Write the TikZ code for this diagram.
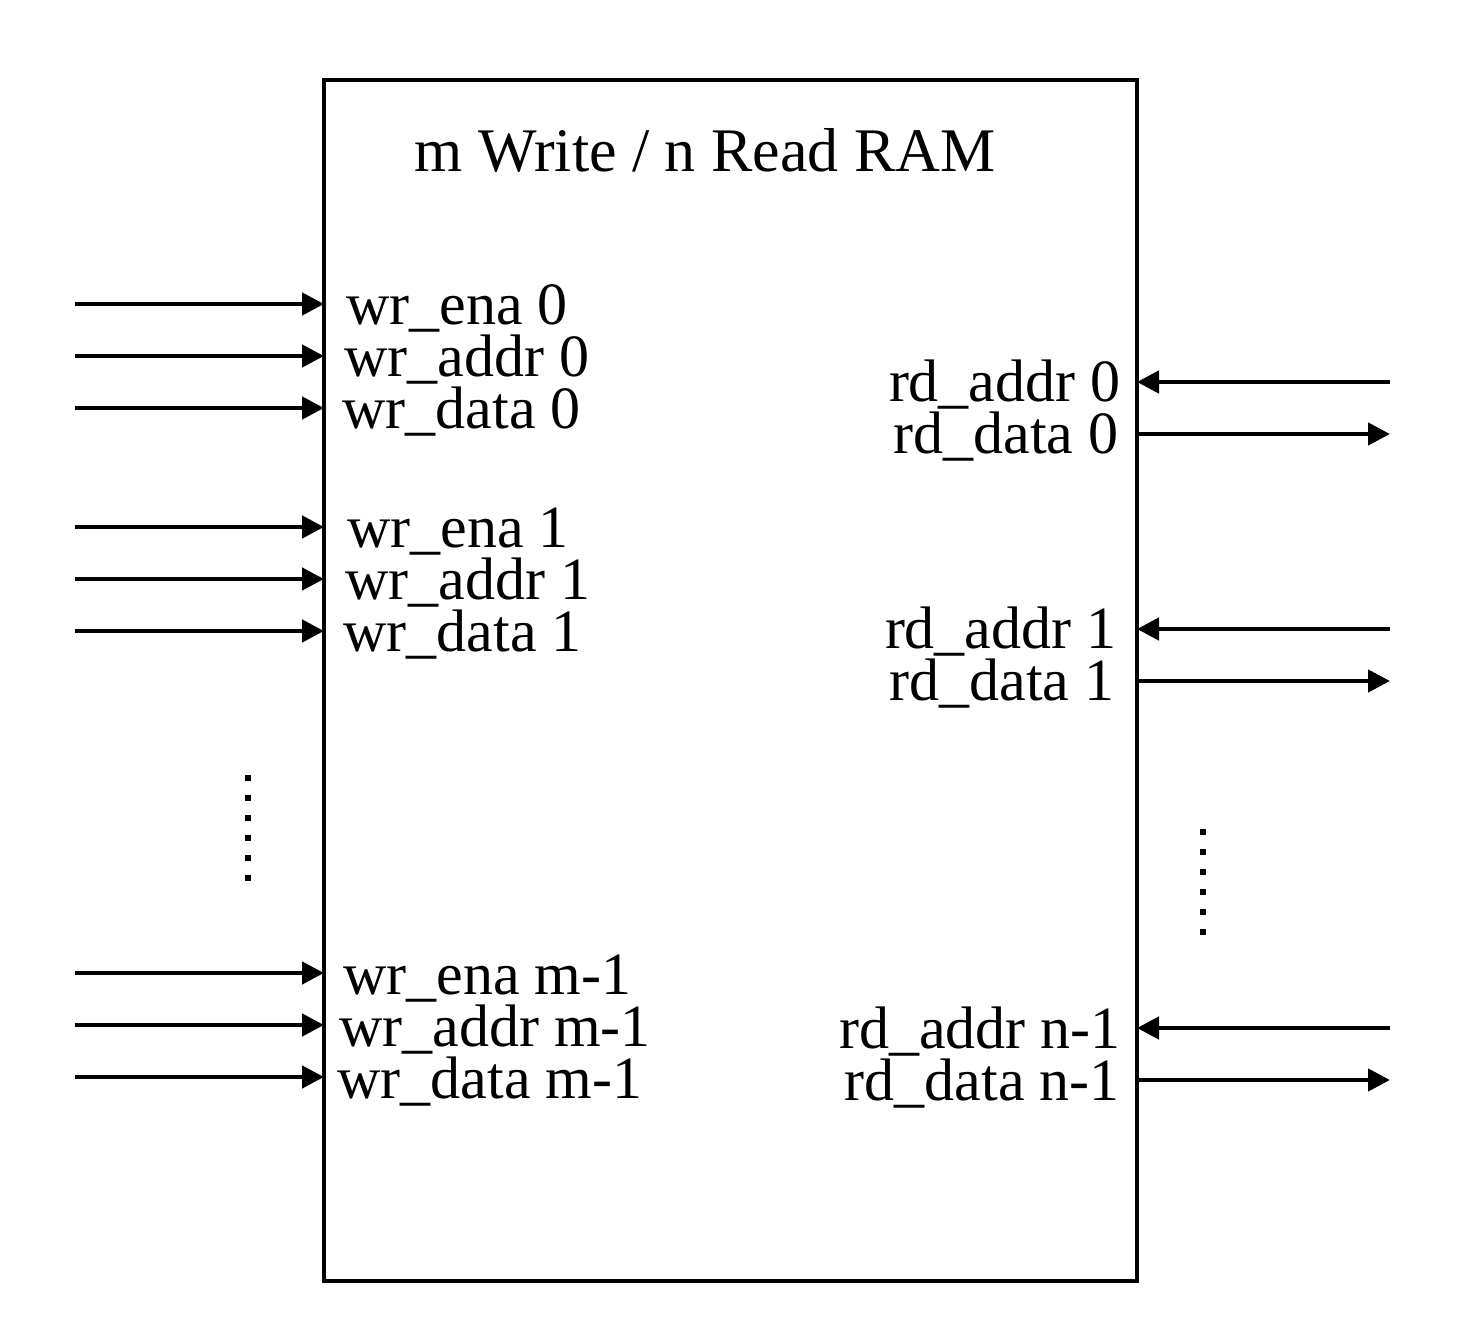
\documentclass[tikz,border=0pt]{standalone}
\usepackage{fontspec}
\setmainfont{Liberation Serif}
\usetikzlibrary{arrows.meta}
\begin{document}
\begin{tikzpicture}[x=0.5pt,y=-0.5pt,
  sig/.style={line width=2.3pt,-{Triangle[length=11pt,width=11pt]}},
  lbl/.style={inner sep=0pt,font=\fontsize{30pt}{36pt}\selectfont},
  ttl/.style={inner sep=0pt,font=\fontsize{31pt}{37pt}\selectfont},
  dotmark/.style={fill=black}]
\useasboundingbox[fill=white] (0,0) rectangle (1464,1326);
\node[draw,line width=2.3pt,inner sep=0pt,outer sep=0pt,minimum width=406.5pt,minimum height=600.5pt] (ram) at (730.5,680.5) {};
\node[ttl,anchor=base] (title) at (705,172) {m Write / n Read RAM};
% write ports
\foreach \y/\xx/\t [count=\i] in {304/346/wr\_ena 0, 356/344/wr\_addr 0, 408/342/wr\_data 0,
  527/347/wr\_ena 1, 579/345/wr\_addr 1, 631/343/wr\_data 1,
  973/343/wr\_ena m-1, 1025/339/wr\_addr m-1, 1077/337/wr\_data m-1}{
  \coordinate (w\i) at (75,\y);
  \draw[sig] (w\i) -- (w\i -| ram.west);
  \node[lbl,anchor=base west] (wl\i) at (\xx,\y+21) {\t};
}
% read ports
\foreach \ya/\yd/\xa/\xd/\k [count=\i] in {382/434/1121/1119/0, 629/681/1117/1115/1, 1028/1080/1121/1120/n-1}{
  \coordinate (ra\i) at (1390,\ya);
  \coordinate (rd\i) at (1390,\yd);
  \draw[sig] (ra\i) -- (ra\i -| ram.east);
  \draw[sig] (rd\i -| ram.east) -- (rd\i);
  \node[lbl,anchor=base east] (ral\i) at (\xa,\ya+20) {rd\_addr \k};
  \node[lbl,anchor=base east] (rdl\i) at (\xd,\yd+20) {rd\_data \k};
}
% ellipsis dots
\foreach \j in {0,...,5}{
  \fill[dotmark] (245,775+20*\j) rectangle ++(6,6);
  \fill[dotmark] (1200,829+20*\j) rectangle ++(6,6);
}
\end{tikzpicture}
\end{document}
